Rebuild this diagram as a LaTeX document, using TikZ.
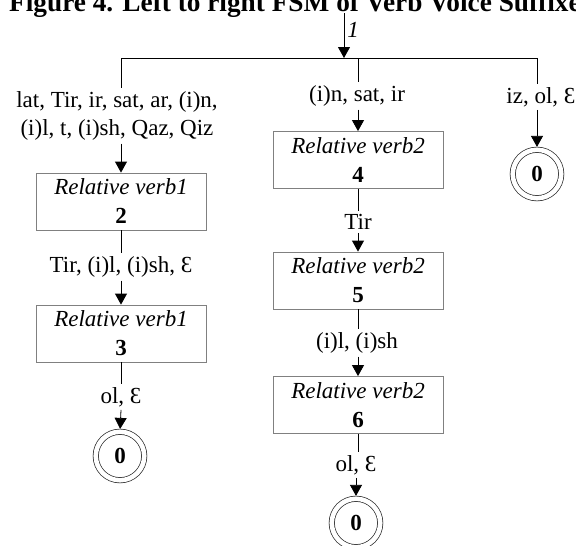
\documentclass[tikz,border=0pt]{standalone}
\usepackage{fontspec}
\setmainfont{Liberation Serif}
\usetikzlibrary{arrows.meta}
\begin{document}
\begin{tikzpicture}[x=1pt,y=-1pt,
  txt/.style={font=\fontsize{23}{28}\selectfont, inner sep=3pt, align=center},
  state/.style={draw=black!50, line width=0.8pt, minimum width=170pt,
    minimum height=57pt, inner sep=0pt, align=center,
    font=\fontsize{23}{29}\selectfont},
  final/.style={circle, draw=black!85, line width=0.7pt, double,
    double distance=4.6pt, minimum size=48.5pt, inner sep=0pt,
    font=\fontsize{23}{28}\selectfont\bfseries},
  link/.style={line width=0.8pt},
  arr/.style={link, -{Triangle[length=11pt,width=12pt]}},
]
\clip (0,0) rectangle (576,546);

% caption
\node[anchor=base west, inner sep=0pt, font=\fontsize{27.3}{30}\selectfont\bfseries]
  (title) at (9,11) {Figure 4. Left to right FSM of Verb Voice Suffixes};

% entry arrow and fork
\coordinate (entry) at (344,13);
\coordinate (fork) at (344,58);
\coordinate (jl) at (121,58);
\coordinate (jm) at (358,58);
\coordinate (jr) at (537,58);
\draw[arr] (entry) -- (fork)
  node[pos=0.38, right, inner sep=3pt, font=\fontsize{23}{28}\selectfont\itshape] (one) {1};
\draw[link] (jl) -- (jr);

% left branch
\node[txt] (l1) at (117,116) {lat, Tir, ir, sat, ar, (i)n,\\(i)l, t, (i)sh, Qaz, Qiz};
\node[state] (s2) at (121,201.5) {\textit{Relative verb1}\\\textbf{2}};
\node[txt] (l2) at (121,267) {Tir, (i)l, (i)sh, Ɛ};
\node[state] (s3) at (121,333.5) {\textit{Relative verb1}\\\textbf{3}};
\node[txt] (l3) at (121,397) {ol, Ɛ};
\node[final] (f1) at (120,456) {0};

\draw[link] (jl) -- (jl |- l1.north);
\draw[arr] (s2.north |- l1.south) -- (s2.north);
\draw[link] (s2.south) -- (l2.north);
\draw[arr] (l2.south) -- (s3.north);
\draw[link] (s3.south) -- (l3.north);
\draw[arr, shorten >=2.5pt] (l3.south) -- (f1.north);

% middle branch
\node[txt] (m1) at (357,96) {(i)n, sat, ir};
\node[state] (s4) at (358,160) {\textit{Relative verb2}\\\textbf{4}};
\node[txt] (m2) at (358,222) {Tir};
\node[state] (s5) at (358,280.5) {\textit{Relative verb2}\\\textbf{5}};
\node[txt] (m3) at (357,343) {(i)l, (i)sh};
\node[state] (s6) at (358,405) {\textit{Relative verb2}\\\textbf{6}};
\node[txt] (m4) at (356,465) {ol, Ɛ};
\node[final] (f2) at (356,523) {0};

\draw[link] (jm) -- (jm |- m1.north);
\draw[arr] (s4.north |- m1.south) -- (s4.north);
\draw[link] (s4.south) -- (m2.north);
\draw[arr] (m2.south) -- (s5.north);
\draw[link] (s5.south) -- (s5.south |- m3.north);
\draw[arr] (s6.north |- m3.south) -- (s6.north);
\draw[link] (s6.south) -- (s6.south |- m4.north);
\draw[arr, shorten >=2.5pt] (m4.south) -- (f2.north);

% right branch
\node[txt] (r1) at (541,97) {iz, ol, Ɛ};
\node[final] (f3) at (537,174) {0};

\draw[link] (jr) -- (jr |- r1.north);
\draw[arr, shorten >=2.5pt] (f3.north |- r1.south) -- (f3.north);
\end{tikzpicture}
\end{document}
